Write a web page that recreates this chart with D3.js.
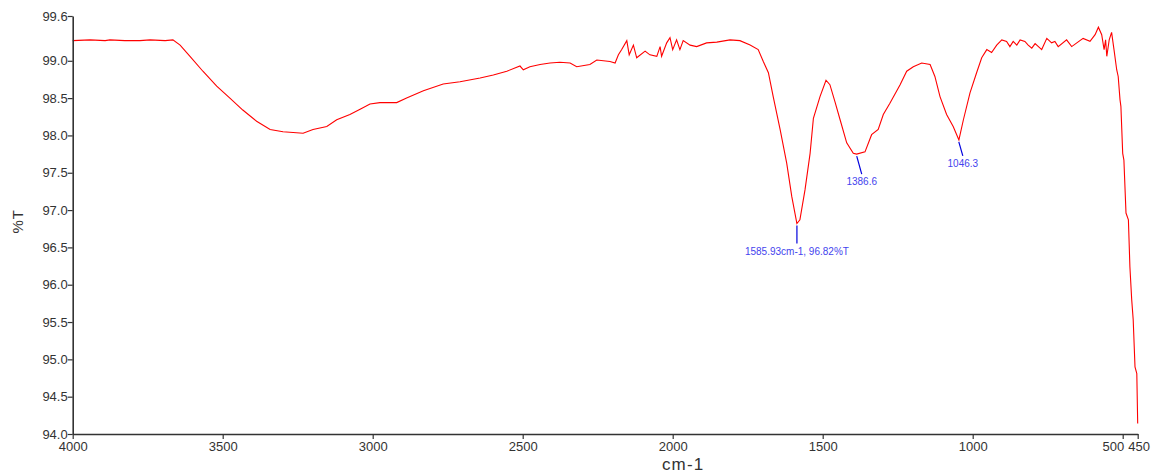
<!DOCTYPE html>
<html>
<head>
<meta charset="utf-8">
<script src="https://cdn.jsdelivr.net/npm/d3@7"></script>
<style>
  html, body { margin: 0; padding: 0; background: #fff; }
  svg { display: block; font-family: "Liberation Sans", Arial, sans-serif; }
</style>
</head>
<body>
<svg id="chart" width="1165" height="474"></svg>
<script>
// spectrum: wavenumber (cm-1) and %T
var wavenumbers = [4000, 3942, 3892, 3876, 3826, 3776, 3742, 3692, 3666, 3642,
  3609, 3566, 3520, 3476, 3433, 3387, 3342, 3299, 3232, 3199,
  3153, 3120, 3076, 3042, 3009, 2976, 2920, 2887, 2831, 2765,
  2709, 2642, 2598, 2553, 2509, 2498, 2476, 2442, 2409, 2376,
  2342, 2320, 2276, 2253, 2209, 2192, 2181, 2170, 2153, 2145,
  2131, 2120, 2092, 2076, 2053, 2042, 2037, 2020, 2009, 2000,
  1987, 1976, 1965, 1942, 1920, 1887, 1853, 1809, 1776, 1742,
  1715, 1698, 1681, 1665, 1642, 1620, 1603, 1586, 1576, 1559,
  1542, 1531, 1509, 1489, 1476, 1459, 1442, 1420, 1398, 1387,
  1359, 1337, 1315, 1298, 1276, 1242, 1220, 1198, 1170, 1142,
  1126, 1109, 1087, 1065, 1046, 1031, 1009, 987, 970, 953,
  937, 920, 903, 887, 876, 865, 853, 842, 826, 815,
  803, 792, 770, 753, 737, 726, 715, 687, 670, 653,
  632, 609, 592, 581, 570, 562, 557, 553, 545, 537,
  529, 520, 515, 509, 506, 500, 496, 489, 481, 476,
  470, 465, 459, 453, 450];
var transmittance = [99.27, 99.28, 99.27, 99.28, 99.27, 99.27, 99.28, 99.27, 99.28, 99.21,
  99.06, 98.86, 98.66, 98.50, 98.34, 98.19, 98.08, 98.05, 98.03, 98.08,
  98.12, 98.21, 98.28, 98.35, 98.42, 98.44, 98.44, 98.50, 98.60, 98.69,
  98.72, 98.77, 98.81, 98.86, 98.93, 98.88, 98.92, 98.95, 98.97, 98.98,
  98.97, 98.92, 98.95, 99.01, 98.99, 98.97, 99.08, 99.15, 99.27, 99.08,
  99.21, 99.04, 99.13, 99.08, 99.06, 99.19, 99.06, 99.24, 99.31, 99.15,
  99.28, 99.15, 99.27, 99.21, 99.19, 99.24, 99.25, 99.28, 99.27, 99.21,
  99.15, 98.99, 98.84, 98.52, 98.08, 97.63, 97.18, 96.82, 96.87, 97.27,
  97.76, 98.23, 98.52, 98.74, 98.68, 98.45, 98.21, 97.90, 97.76, 97.75,
  97.78, 98.01, 98.08, 98.28, 98.43, 98.68, 98.86, 98.92, 98.97, 98.95,
  98.79, 98.52, 98.28, 98.12, 97.94, 98.21, 98.57, 98.84, 99.04, 99.15,
  99.11, 99.21, 99.28, 99.26, 99.19, 99.26, 99.21, 99.28, 99.26, 99.21,
  99.17, 99.23, 99.15, 99.30, 99.24, 99.26, 99.19, 99.28, 99.19, 99.24,
  99.30, 99.26, 99.35, 99.45, 99.35, 99.15, 99.28, 99.06, 99.28, 99.38,
  99.15, 98.88, 98.79, 98.48, 98.39, 97.76, 97.67, 96.96, 96.87, 96.24,
  95.80, 95.53, 94.90, 94.81, 94.14];

var xTicks = [4000, 3500, 3000, 2500, 2000, 1500, 1000, 500, 450];
var yTicks = [94.0, 94.5, 95.0, 95.5, 96.0, 96.5, 97.0, 97.5, 98.0, 98.5, 99.0, 99.6];

// peak labels: wavenumber, %T, label text, label offset
var peakWave = [1585.93, 1386.6, 1046.3];
var peakT = [96.82, 97.75, 97.94];
var peakText = ['1585.93cm-1, 96.82%T', '1386.6', '1046.3'];
var peakDx = [0, 5, 4];
var peakLen = [18, 18, 14];

var svg = d3.select('#chart');
var margin = {left: 72.7, top: 16, right: 27.3, bottom: 40};
var width = 1165 - margin.left - margin.right;
var height = 474 - margin.top - margin.bottom;

var x = d3.scaleLinear().domain([4000, 450]).range([0, width]);
var y = d3.scaleLinear().domain([94, 99.6]).range([height, 0]);

var g = svg.append('g')
  .attr('transform', 'translate(' + margin.left + ',' + margin.top + ')');

var points = wavenumbers.map(function (w, i) {
  return [w, transmittance[i]];
});

g.append('path')
  .datum(points)
  .attr('fill', 'none')
  .attr('stroke', '#ff0000')
  .attr('stroke-width', 1.1)
  .attr('d', d3.line()
    .x(function (d) { return x(d[0]); })
    .y(function (d) { return y(d[1]); }));

var yAxis = g.append('g')
  .call(d3.axisLeft(y).tickValues(yTicks).tickFormat(d3.format('.1f')).tickSize(5).tickSizeOuter(0));
var xAxis = g.append('g')
  .attr('transform', 'translate(0,' + height + ')')
  .call(d3.axisBottom(x).tickValues(xTicks).tickFormat(d3.format('d')).tickSize(5).tickSizeOuter(0));

[xAxis, yAxis].forEach(function (ax) {
  ax.select('.domain').attr('stroke', '#333').attr('stroke-width', 1.6);
  ax.selectAll('.tick line').attr('stroke', '#333').attr('stroke-width', 1.2);
  ax.selectAll('.tick text')
    .attr('fill', '#333')
    .attr('font-size', 13)
    .attr('font-family', '"Liberation Sans", Arial, sans-serif');
});
yAxis.selectAll('.tick text').attr('x', -5);
xAxis.selectAll('.tick text').attr('y', 8);
// the 500 label sits left of its tick so it does not run into 450
xAxis.selectAll('.tick text')
  .filter(function (d) { return d === 500; })
  .attr('text-anchor', 'end')
  .attr('x', 1);
xAxis.selectAll('.tick text')
  .filter(function (d) { return d === 450; })
  .attr('x', 1);

// axis titles
svg.append('text')
  .text('cm-1')
  .attr('x', margin.left + x(1965))
  .attr('y', 470)
  .attr('text-anchor', 'middle')
  .attr('font-size', 17)
  .attr('letter-spacing', 1.2)
  .attr('fill', '#333');

svg.append('text')
  .text('%T')
  .attr('transform', 'translate(23,' + (margin.top + y(96.85)) + ') rotate(-90)')
  .attr('text-anchor', 'middle')
  .attr('font-size', 15)
  .attr('letter-spacing', 1)
  .attr('fill', '#333');

// peak markers
peakWave.forEach(function (w, i) {
  var px = x(w);
  var py = y(peakT[i]);
  g.append('line')
    .attr('x1', px)
    .attr('y1', py + 2)
    .attr('x2', px + peakDx[i])
    .attr('y2', py + 2 + peakLen[i])
    .attr('stroke', '#0000dd')
    .attr('stroke-width', 1.2);
  g.append('text')
    .text(peakText[i])
    .attr('x', px + peakDx[i])
    .attr('y', py + peakLen[i] + 13)
    .attr('text-anchor', 'middle')
    .attr('font-size', 10)
    .attr('fill', '#4444ee');
});
</script>
</body>
</html>
